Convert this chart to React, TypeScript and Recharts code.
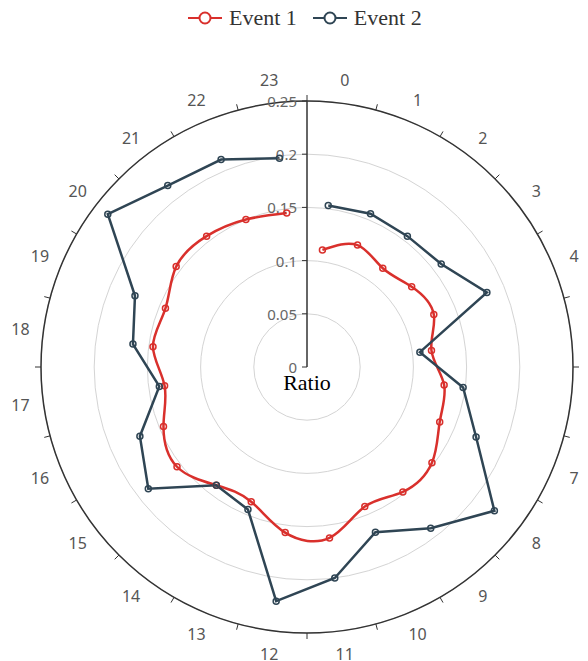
import React from 'react';
import { RadarChart, Radar, PolarGrid, PolarAngleAxis, PolarRadiusAxis, Legend, Curve } from 'recharts';

const hours = ['0','1','2','3','4','5','6','7','8','9','10','11','12','13','14','15','16','17','18','19','20','21','22','23'];
const event1 = [0.111,0.124,0.117,0.124,0.129,0.118,0.130,0.135,0.148,0.148,0.142,0.162,0.157,0.137,0.140,0.154,0.146,0.135,0.146,0.144,0.155,0.155,0.150,0.146];
const event2 = [0.153,0.156,0.155,0.159,0.183,0.107,0.148,0.172,0.222,0.191,0.168,0.200,0.222,0.145,0.140,0.188,0.170,0.140,0.165,0.175,0.236,0.215,0.211,0.198];
const radiusTicks = [0, 0.05, 0.1, 0.15, 0.2, 0.25];
const seriesNames = ['Event 1', 'Event 2'];
const seriesColors = ['#d9302c', '#2f4554'];

const data = hours.map((h, i) => ({ hour: h, e1: event1[i], e2: event2[i] }));

const CX = 307;
const CY = 367;
const R = 266;
const LABEL_GAP = 23;
const RAD = Math.PI / 180;

function AngleTick(props: any) {
  const { x, y, payload } = props;
  const cx = props.cx ?? CX;
  const cy = props.cy ?? CY;
  const coord = payload.coordinate;
  const r = Math.hypot(x - cx, y - cy) - LABEL_GAP;
  const b = coord - 7.5;
  const x1 = cx + r * Math.cos(b * RAD);
  const y1 = cy - r * Math.sin(b * RAD);
  const x2 = cx + (r + 6) * Math.cos(b * RAD);
  const y2 = cy - (r + 6) * Math.sin(b * RAD);
  return (
    <g>
      <line x1={x1} y1={y1} x2={x2} y2={y2} stroke="#333" strokeWidth={1} />
      <text x={x} y={y} textAnchor="middle" dominantBaseline="central" fill="#555" fontSize={16} fontFamily="'Noto Sans', sans-serif">
        {payload.value}
      </text>
    </g>
  );
}

function RadiusTick(props: any) {
  const { x, y, payload } = props;
  return (
    <g>
      <line x1={x - 5} y1={y} x2={x} y2={y} stroke="#333" strokeWidth={1} />
      <text x={x - 10} y={y} textAnchor="end" dominantBaseline="central" fill="#666" fontSize={15} fontFamily="'Noto Sans', sans-serif">
        {String(payload.value)}
      </text>
      {payload.value === 0 && (
        <text x={x} y={y + 15} textAnchor="middle" dominantBaseline="central" fill="#000" fontSize={22} fontFamily="'Liberation Serif', serif">
          Ratio
        </text>
      )}
    </g>
  );
}

const makeShape = (color: string, type: any) => (props: any) => {
  const pts = (props.points || []).map((p: any) => ({ x: p.x, y: p.y }));
  return <Curve points={pts} type={type} stroke={color} strokeWidth={2.5} fill="none" />;
};

const renderLegend = () => (
  <div style={{ display: 'flex', alignItems: 'center', fontFamily: "'Liberation Serif', serif", fontSize: 22, color: '#333' }}>
    {seriesNames.map((n, i) => (
      <div key={n} style={{ display: 'flex', alignItems: 'center', marginRight: i === 0 ? 16 : 0 }}>
        <svg width={34} height={14} style={{ display: 'block' }}>
          <line x1={0} y1={7} x2={34} y2={7} stroke={seriesColors[i]} strokeWidth={2} />
          <circle cx={17} cy={7} r={5.5} fill="#fff" stroke={seriesColors[i]} strokeWidth={2} />
        </svg>
        <span style={{ marginLeft: 7, lineHeight: '24px' }}>{n}</span>
      </div>
    ))}
  </div>
);

export default function App() {
  return (
    <div style={{ position: 'fixed', left: 0, top: 0, width: 588, height: 661, background: '#fff' }}>
      <RadarChart
        width={588}
        height={661}
        data={data}
        cx={CX}
        cy={CY}
        innerRadius={0}
        outerRadius={R}
        startAngle={82.5}
        endAngle={-277.5}
        margin={{ top: 0, right: 0, bottom: 0, left: 0 }}
      >
        <PolarGrid gridType="circle" radialLines={false} stroke="#d4d4d4" />
        <PolarAngleAxis
          dataKey="hour"
          axisLineType="circle"
          axisLine={{ stroke: '#333', strokeWidth: 1.5 }}
          tickLine={false}
          tickSize={LABEL_GAP}
          tick={AngleTick}
        />
        <PolarRadiusAxis
          angle={90}
          type="number"
          domain={[0, 0.25]}
          ticks={radiusTicks as any}
          tickCount={6}
          allowDataOverflow
          axisLine={{ stroke: '#333', strokeWidth: 1.5 }}
          tick={RadiusTick}
        />
        <Radar
          name={seriesNames[0]}
          dataKey="e1"
          stroke={seriesColors[0]}
          fill="none"
          fillOpacity={0}
          isAnimationActive={false}
          shape={makeShape(seriesColors[0], 'natural')}
          dot={{ r: 3, fill: '#fff', stroke: seriesColors[0], strokeWidth: 1.5 }}
        />
        <Radar
          name={seriesNames[1]}
          dataKey="e2"
          stroke={seriesColors[1]}
          fill="none"
          fillOpacity={0}
          isAnimationActive={false}
          shape={makeShape(seriesColors[1], 'linear')}
          dot={{ r: 3, fill: '#fff', stroke: seriesColors[1], strokeWidth: 1.5 }}
        />
        <Legend content={renderLegend} wrapperStyle={{ left: 188, top: 6, width: 'auto' }} />
      </RadarChart>
    </div>
  );
}
